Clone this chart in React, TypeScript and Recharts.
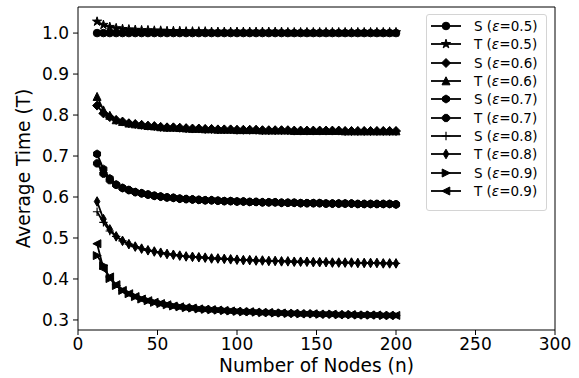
import React from 'react';
import { LineChart, Line, XAxis, YAxis, Legend, ReferenceLine } from 'recharts';

const nodes = [12, 16, 20, 24, 28, 32, 36, 40, 44, 48, 52, 56, 60, 64, 68, 72, 76, 80, 84, 88, 92, 96, 100, 104,
  108, 112, 116, 120, 124, 128, 132, 136, 140, 144, 148, 152, 156, 160, 164, 168, 172, 176, 180, 184, 188, 192, 196, 200];

const s05 = [1.0, 1.0, 1.0, 1.0, 1.0, 1.0, 1.0, 1.0, 1.0, 1.0, 1.0, 1.0, 1.0, 1.0, 1.0, 1.0, 1.0, 1.0, 1.0, 1.0, 1.0, 1.0, 1.0, 1.0,
  1.0, 1.0, 1.0, 1.0, 1.0, 1.0, 1.0, 1.0, 1.0, 1.0, 1.0, 1.0, 1.0, 1.0, 1.0, 1.0, 1.0, 1.0, 1.0, 1.0, 1.0, 1.0, 1.0, 1.0];
const t05 = [1.028, 1.020, 1.015, 1.012, 1.010, 1.009, 1.008, 1.007, 1.007, 1.006, 1.006, 1.005, 1.005, 1.005, 1.004, 1.004,
  1.004, 1.004, 1.003, 1.003, 1.003, 1.003, 1.003, 1.003, 1.003, 1.003, 1.003, 1.003, 1.003, 1.003, 1.002, 1.002,
  1.002, 1.002, 1.002, 1.002, 1.002, 1.002, 1.002, 1.002, 1.002, 1.002, 1.002, 1.002, 1.002, 1.002, 1.002, 1.002];

const s06 = [0.823, 0.804, 0.795, 0.788, 0.784, 0.780, 0.778, 0.776, 0.774, 0.773, 0.771, 0.770, 0.770, 0.769, 0.768, 0.767,
  0.767, 0.766, 0.766, 0.765, 0.765, 0.765, 0.764, 0.764, 0.764, 0.764, 0.763, 0.763, 0.763, 0.763, 0.763, 0.762,
  0.762, 0.762, 0.762, 0.762, 0.762, 0.762, 0.762, 0.761, 0.761, 0.761, 0.761, 0.761, 0.761, 0.761, 0.761, 0.761];
const t06 = [0.845, 0.812, 0.799, 0.788, 0.784, 0.780, 0.778, 0.776, 0.774, 0.773, 0.771, 0.770, 0.770, 0.769, 0.768, 0.767,
  0.767, 0.766, 0.766, 0.765, 0.765, 0.765, 0.764, 0.764, 0.764, 0.764, 0.763, 0.763, 0.763, 0.763, 0.763, 0.762,
  0.762, 0.762, 0.762, 0.762, 0.762, 0.762, 0.762, 0.761, 0.761, 0.761, 0.761, 0.761, 0.761, 0.761, 0.761, 0.761];

const s07 = [0.705, 0.668, 0.645, 0.630, 0.622, 0.617, 0.612, 0.609, 0.606, 0.603, 0.601, 0.599, 0.598, 0.596, 0.595, 0.594,
  0.593, 0.592, 0.592, 0.591, 0.590, 0.590, 0.589, 0.589, 0.588, 0.588, 0.587, 0.587, 0.587, 0.586, 0.586, 0.586,
  0.585, 0.585, 0.585, 0.585, 0.584, 0.584, 0.584, 0.584, 0.584, 0.583, 0.583, 0.583, 0.583, 0.583, 0.583, 0.582];
const t07 = [0.682, 0.657, 0.641, 0.630, 0.622, 0.617, 0.612, 0.609, 0.606, 0.603, 0.601, 0.599, 0.598, 0.596, 0.595, 0.594,
  0.593, 0.592, 0.592, 0.591, 0.590, 0.590, 0.589, 0.589, 0.588, 0.588, 0.587, 0.587, 0.587, 0.586, 0.586, 0.586,
  0.585, 0.585, 0.585, 0.585, 0.584, 0.584, 0.584, 0.584, 0.584, 0.583, 0.583, 0.583, 0.583, 0.583, 0.583, 0.582];

const s08 = [0.564, 0.538, 0.517, 0.504, 0.493, 0.485, 0.479, 0.474, 0.470, 0.467, 0.464, 0.461, 0.459, 0.457, 0.455, 0.454,
  0.453, 0.452, 0.450, 0.450, 0.449, 0.448, 0.447, 0.446, 0.446, 0.445, 0.445, 0.444, 0.444, 0.443, 0.443, 0.442,
  0.442, 0.442, 0.441, 0.441, 0.441, 0.440, 0.440, 0.440, 0.440, 0.439, 0.439, 0.439, 0.439, 0.438, 0.438, 0.438];
const t08 = [0.589, 0.546, 0.521, 0.504, 0.493, 0.485, 0.479, 0.474, 0.470, 0.467, 0.464, 0.461, 0.459, 0.457, 0.455, 0.454,
  0.453, 0.452, 0.450, 0.450, 0.449, 0.448, 0.447, 0.446, 0.446, 0.445, 0.445, 0.444, 0.444, 0.443, 0.443, 0.442,
  0.442, 0.442, 0.441, 0.441, 0.441, 0.440, 0.440, 0.440, 0.440, 0.439, 0.439, 0.439, 0.439, 0.438, 0.438, 0.438];

const s09 = [0.457, 0.433, 0.401, 0.384, 0.372, 0.364, 0.357, 0.351, 0.347, 0.343, 0.340, 0.337, 0.334, 0.332, 0.330, 0.329,
  0.327, 0.326, 0.325, 0.324, 0.323, 0.322, 0.321, 0.320, 0.320, 0.319, 0.318, 0.318, 0.317, 0.317, 0.316, 0.316,
  0.315, 0.315, 0.315, 0.314, 0.314, 0.314, 0.313, 0.313, 0.313, 0.312, 0.312, 0.312, 0.312, 0.311, 0.311, 0.311];
const t09 = [0.486, 0.425, 0.405, 0.386, 0.372, 0.364, 0.357, 0.351, 0.347, 0.343, 0.340, 0.337, 0.334, 0.332, 0.330, 0.329,
  0.327, 0.326, 0.325, 0.324, 0.323, 0.322, 0.321, 0.320, 0.320, 0.319, 0.318, 0.318, 0.317, 0.317, 0.316, 0.316,
  0.315, 0.315, 0.315, 0.314, 0.314, 0.314, 0.313, 0.313, 0.313, 0.312, 0.312, 0.312, 0.312, 0.311, 0.311, 0.311];

const xTicks = [0, 50, 100, 150, 200, 250, 300];
const yTicks = [0.3, 0.4, 0.5, 0.6, 0.7, 0.8, 0.9, 1.0];
const xDomain = [0, 300];
const yDomain = [0.2755, 1.0636];

// series config: key, data, legend label parts, marker kind
const series = [
  { key: 's05', values: s05, who: 'S', eps: '0.5', marker: 'o' },
  { key: 't05', values: t05, who: 'T', eps: '0.5', marker: '*' },
  { key: 's06', values: s06, who: 'S', eps: '0.6', marker: 'D' },
  { key: 't06', values: t06, who: 'T', eps: '0.6', marker: '^' },
  { key: 's07', values: s07, who: 'S', eps: '0.7', marker: 'h' },
  { key: 't07', values: t07, who: 'T', eps: '0.7', marker: '8' },
  { key: 's08', values: s08, who: 'S', eps: '0.8', marker: '+' },
  { key: 't08', values: t08, who: 'T', eps: '0.8', marker: 'd' },
  { key: 's09', values: s09, who: 'S', eps: '0.9', marker: '>' },
  { key: 't09', values: t09, who: 'T', eps: '0.9', marker: '<' },
];

const data = nodes.map((n, i) => {
  const row: Record<string, number> = { n };
  series.forEach((s) => { row[s.key] = s.values[i]; });
  return row;
});

const FONT = '"DejaVu Sans", sans-serif';

function poly(pts: number[][], cx: number, cy: number) {
  return pts.map(([x, y]) => `${cx + x},${cy + y}`).join(' ');
}

function regular(n: number, r: number, rot: number) {
  const pts: number[][] = [];
  for (let k = 0; k < n; k++) {
    const a = rot + (k * 2 * Math.PI) / n;
    pts.push([r * Math.cos(a), r * Math.sin(a)]);
  }
  return pts;
}

function star(r: number) {
  const pts: number[][] = [];
  for (let k = 0; k < 10; k++) {
    const a = -Math.PI / 2 + (k * Math.PI) / 5;
    const rr = k % 2 === 0 ? r : r * 0.38;
    pts.push([rr * Math.cos(a), rr * Math.sin(a)]);
  }
  return pts;
}

function Marker({ kind, cx, cy }: { kind: string; cx: number; cy: number }) {
  const common = { fill: '#000', stroke: '#000', strokeWidth: 1 };
  switch (kind) {
    case 'o':
      return <circle cx={cx} cy={cy} r={3.8} {...common} />;
    case '*':
      return <polygon points={poly(star(4.8), cx, cy)} {...common} />;
    case 'D':
      return <polygon points={poly([[0, -4.5], [4.5, 0], [0, 4.5], [-4.5, 0]], cx, cy)} {...common} />;
    case '^':
      return <polygon points={poly([[0, -4.2], [-4, 3.8], [4, 3.8]], cx, cy)} {...common} />;
    case 'h':
      return <polygon points={poly(regular(6, 4, -Math.PI / 2), cx, cy)} {...common} />;
    case '8':
      return <polygon points={poly(regular(8, 3.9, Math.PI / 8), cx, cy)} {...common} />;
    case '+':
      return (
        <g stroke="#000" strokeWidth={1.2}>
          <line x1={cx - 4.2} y1={cy} x2={cx + 4.2} y2={cy} />
          <line x1={cx} y1={cy - 4.2} x2={cx} y2={cy + 4.2} />
        </g>
      );
    case 'd':
      return <polygon points={poly([[0, -4.8], [2.8, 0], [0, 4.8], [-2.8, 0]], cx, cy)} {...common} />;
    case '>':
      return <polygon points={poly([[4.2, 0], [-3.8, -4], [-3.8, 4]], cx, cy)} {...common} />;
    case '<':
      return <polygon points={poly([[-4.2, 0], [3.8, -4], [3.8, 4]], cx, cy)} {...common} />;
    default:
      return null;
  }
}

function renderLegend() {
  return (
    <div
      style={{
        border: '1px solid #d4d4d4',
        borderRadius: 3,
        background: 'rgba(255,255,255,0.8)',
        padding: '2px 0 12px 0',
        boxSizing: 'border-box',
        width: 121,
        height: 197,
        fontFamily: FONT,
        fontSize: 13.5,
        color: '#000',
      }}
    >
      {series.map((s) => (
        <div key={s.key} style={{ display: 'flex', alignItems: 'center', height: 18.3 }}>
          <svg width={46} height={18} style={{ flex: 'none' }}>
            <line x1={4} y1={9} x2={34} y2={9} stroke="#000" strokeWidth={1.8} />
            <Marker kind={s.marker} cx={19} cy={9} />
          </svg>
          <span style={{ whiteSpace: 'nowrap', marginLeft: 1 }}>
            {s.who} (<i>ε</i>={s.eps})
          </span>
        </div>
      ))}
    </div>
  );
}

const tickStyle = { fontSize: 17, fill: '#000', fontFamily: FONT };
const labelStyle = { fontSize: 18.6, fill: '#000', fontFamily: FONT };

export default function App() {
  return (
    <div style={{ position: 'absolute', left: 0, top: 0, width: 579, height: 378, background: '#fff' }}>
      <LineChart width={579} height={378} data={data} margin={{ top: 7, right: 24, left: 0, bottom: 0 }}>
        <XAxis
          dataKey="n"
          type="number"
          domain={xDomain}
          ticks={xTicks}
          height={48}
          tickSize={5}
          tickMargin={3}
          tick={tickStyle}
          tickLine={{ stroke: '#000' }}
          axisLine={{ stroke: '#000' }}
          label={({ viewBox }: any) => (
            <text x={viewBox.x + viewBox.width / 2} y={viewBox.y + 42} textAnchor="middle" style={labelStyle}>
              Number of Nodes (n)
            </text>
          )}
        />
        <YAxis
          type="number"
          domain={yDomain}
          ticks={yTicks}
          width={78}
          tickSize={5}
          tickMargin={4}
          tick={tickStyle}
          tickFormatter={(v: number) => v.toFixed(1)}
          tickLine={{ stroke: '#000' }}
          axisLine={{ stroke: '#000' }}
          allowDataOverflow
          label={({ viewBox }: any) => {
            const cy = viewBox.y + viewBox.height / 2;
            return (
              <text x={30} y={cy} transform={`rotate(-90, 30, ${cy})`} textAnchor="middle" style={labelStyle}>
                Average Time (T)
              </text>
            );
          }}
        />
        <ReferenceLine x={xDomain[1]} stroke="#000" strokeWidth={1} ifOverflow="visible" />
        <ReferenceLine y={yDomain[1]} stroke="#000" strokeWidth={1} ifOverflow="visible" />
        <Legend
          layout="horizontal"
          verticalAlign="middle"
          align="center"
          content={renderLegend}
          wrapperStyle={{ position: 'absolute', left: 426, top: 14, width: 121, height: 197 }}
        />
        {series.map((s) => (
          <Line
            key={s.key}
            dataKey={s.key}
            type="linear"
            stroke="#000"
            strokeWidth={1.8}
            isAnimationActive={false}
            legendType="none"
            dot={(p: any) => <Marker key={`${s.key}-${p.index}`} kind={s.marker} cx={p.cx} cy={p.cy} />}
            activeDot={false}
          />
        ))}
      </LineChart>
    </div>
  );
}
